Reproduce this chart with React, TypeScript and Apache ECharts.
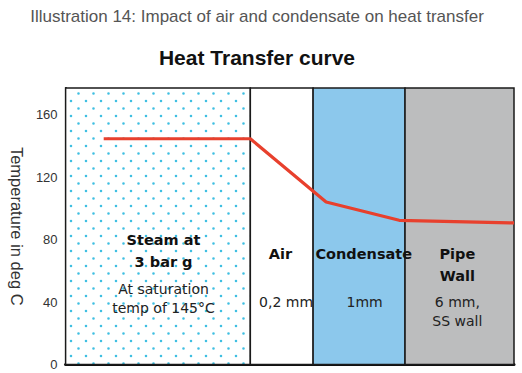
import { useEffect, useRef } from 'react';
import * as echarts from 'echarts';

// Zones across the heat-transfer path (x position in % of plot width)
const zoneBounds = [0, 41.2, 55.2, 75.7, 100];
const zoneHeadings = ['Steam at\n3 bar g', 'Air', 'Condensate', 'Pipe\nWall'];
const zoneNotes = ['At saturation\ntemp of 145°C', '0,2 mm', '1mm', '6 mm,\nSS wall'];
const zoneFills = ['dots', '#ffffff', '#8CC8EC', '#BCBDBE'];
// label anchors inside each zone (percent of the zone rectangle)
const headingPos = [['53%', '51%'], ['48%', '56%'], ['55%', '56%'], ['48%', '56%']];
const notePos = [['53%', '69.3%'], ['57%', '74%'], ['56%', '74%'], ['48%', '73.8%']];

// Temperature curve
const curveX = [8.5, 41.2, 58.1, 74.4, 100];
const curveY = [144.5, 144.5, 104, 92.3, 90.6];

const yMin = 0;
const yMax = 177;
const yInterval = 40;

function makeDots() {
  const c = document.createElement('canvas');
  c.width = 15;
  c.height = 15;
  const ctx = c.getContext('2d')!;
  ctx.fillStyle = '#fff';
  ctx.fillRect(0, 0, 15, 15);
  ctx.fillStyle = '#3FBFE2';
  ctx.beginPath();
  ctx.arc(3.5, 3.5, 1.3, 0, Math.PI * 2);
  ctx.arc(11, 11, 1.3, 0, Math.PI * 2);
  ctx.fill();
  return c;
}

export default function App() {
  const ref = useRef<HTMLDivElement>(null);
  useEffect(() => {
    const chart = echarts.init(ref.current!, null, { renderer: 'svg' });
    const dots = makeDots();
    const fill = (f: string) =>
      f === 'dots' ? ({ image: dots, repeat: 'repeat', imageWidth: 15, imageHeight: 15 } as any) : f;

    const fillAreas = zoneHeadings.map((h, i) => [
      {
        xAxis: zoneBounds[i],
        itemStyle: { color: fill(zoneFills[i]), borderColor: '#1a1a1a', borderWidth: 1.5 },
        label: {
          show: true,
          position: headingPos[i],
          align: 'center',
          verticalAlign: 'top',
          formatter: h,
          fontFamily: 'DejaVu Sans',
          fontWeight: 'bold',
          fontSize: 14.5,
          lineHeight: 22,
          color: '#111',
        },
      },
      { xAxis: zoneBounds[i + 1] },
    ]);
    const noteAreas = zoneNotes.map((n, i) => [
      {
        xAxis: zoneBounds[i],
        itemStyle: { color: 'rgba(0,0,0,0)', borderWidth: 0 },
        label: {
          show: true,
          position: notePos[i],
          align: 'center',
          verticalAlign: 'top',
          formatter: n,
          fontFamily: 'DejaVu Sans',
          fontWeight: 'normal',
          fontSize: 14,
          lineHeight: 19,
          color: '#222',
        },
      },
      { xAxis: zoneBounds[i + 1] },
    ]);

    chart.setOption({
      animation: false,
      backgroundColor: '#ffffff',
      title: [
        {
          text: 'Illustration 14: Impact of air and condensate on heat transfer',
          left: 252,
          textAlign: 'center',
          top: 3,
          textStyle: { fontFamily: 'Liberation Sans', fontWeight: 'normal', fontSize: 17, color: '#555' },
        },
        {
          text: 'Heat Transfer curve',
          left: 252,
          textAlign: 'center',
          top: 42,
          textStyle: { fontFamily: 'Liberation Sans', fontWeight: 'bold', fontSize: 21, color: '#111' },
        },
      ],
      grid: { left: 65, right: 8, top: 88, bottom: 8.5 },
      xAxis: {
        type: 'value',
        min: 0,
        max: 100,
        axisLine: { show: true, lineStyle: { color: '#111', width: 3 } },
        axisLabel: { show: false },
        axisTick: { show: false },
        splitLine: { show: false },
      },
      yAxis: {
        type: 'value',
        min: yMin,
        max: yMax,
        interval: yInterval,
        name: 'Temperature in deg C',
        nameLocation: 'middle',
        nameRotate: -90,
        nameGap: 37,
        nameTextStyle: { fontFamily: 'Liberation Sans', fontSize: 16.5, color: '#333' },
        axisLine: { show: true, lineStyle: { color: '#111', width: 2 } },
        axisTick: { show: false },
        splitLine: { show: false },
        axisLabel: {
          fontFamily: 'Liberation Sans',
          fontSize: 13,
          color: '#333',
          margin: 8,
          showMaxLabel: false,
        },
      },
      series: [
        {
          type: 'line',
          z: 1,
          data: [],
          silent: true,
          markArea: { silent: true, data: [...fillAreas, ...noteAreas] as any },
        },
        {
          type: 'line',
          z: 5,
          data: curveX.map((x, i) => [x, curveY[i]]),
          symbol: 'none',
          lineStyle: { color: '#E8402D', width: 3.2 },
        },
      ],
    });
    return () => chart.dispose();
  }, []);
  return <div ref={ref} style={{ position: 'fixed', left: 0, top: 0, width: 522, height: 373 }} />;
}
